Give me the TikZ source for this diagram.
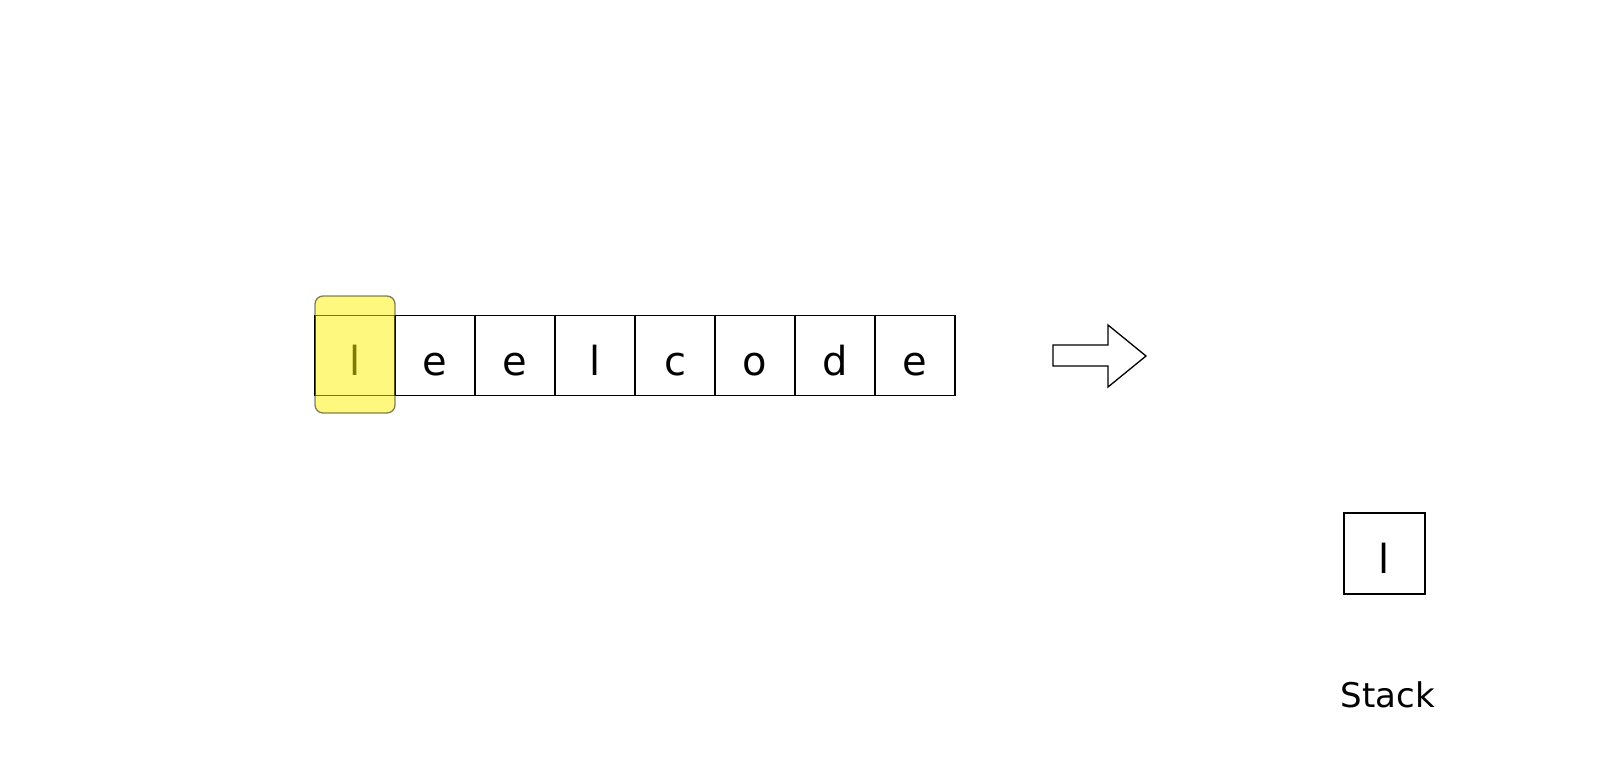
\documentclass[tikz,border=0pt]{standalone}
\usepackage{fontspec}
\setmainfont{DejaVu Sans}
\begin{document}
\begin{tikzpicture}[x=1pt,y=-1pt,
  cell/.style={draw=black,line width=1.3pt,minimum width=80pt,minimum height=80pt,inner sep=0pt,text height=39pt,text depth=0pt,font=\fontsize{40}{40}\selectfont},
  hilite/.style={fill=yellow,fill opacity=0.5,draw=black,draw opacity=0.5,line width=1.3pt,rounded corners=8pt,minimum width=80pt,minimum height=117pt,inner sep=0pt},
  label/.style={font=\fontsize{34}{34}\selectfont,inner sep=0pt}]
\useasboundingbox (0,0) rectangle (1616,772);
\node[cell] (c1) at (355,355.5) {l};
\node[cell] (c2) at (435,355.5) {e};
\node[cell] (c3) at (515,355.5) {e};
\node[cell] (c4) at (595,355.5) {l};
\node[cell] (c5) at (675,355.5) {c};
\node[cell] (c6) at (755,355.5) {o};
\node[cell] (c7) at (835,355.5) {d};
\node[cell] (c8) at (915,355.5) {e};
\node[hilite] (hl) at (355,354.5) {};
\draw[line width=1.3pt,line join=miter] (1053,345) -- (1108,345) -- (1108,325) -- (1146,356) -- (1108,387) -- (1108,366) -- (1053,366) -- cycle;
\node[cell,minimum width=81pt,minimum height=81pt] (s1) at (1384.5,553.5) {l};
\node[label] (st) at (1388,695) {Stack};
\end{tikzpicture}
\end{document}
